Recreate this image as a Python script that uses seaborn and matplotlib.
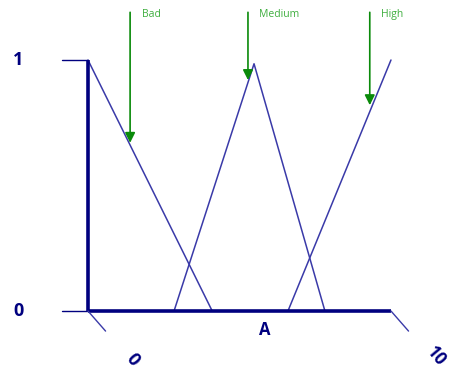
import matplotlib
matplotlib.use("Agg")
import matplotlib.pyplot as plt
import seaborn as sns
import pandas as pd

sns.set_theme(style="white")
plt.rcParams["font.family"] = ["Open Sans", "DejaVu Sans"]

# Membership functions of variable A (universe 0..10)
bad_x = [0.0, 4.1]
bad_y = [1.0, 0.0]
medium_x = [2.84, 5.48, 7.82]
medium_y = [0.0, 0.985, 0.0]
high_x = [6.6, 10.0]
high_y = [0.0, 1.0]

# Labelled arrows pointing at each fuzzy set
set_names = ["Bad", "Medium", "High"]
arrow_x = [1.39, 5.28, 9.3]
arrow_tip = [0.67, 0.92, 0.82]

x_ticks = [0, 10]
y_ticks = [0, 1]
axis_name = "A"

navy = "#00007f"
line_col = "#3a3aa8"
green = "#0a8a0a"
label_green = "#3fae3f"

frames = []
for name, xs, ys in [("Bad", bad_x, bad_y), ("Medium", medium_x, medium_y), ("High", high_x, high_y)]:
    frames.append(pd.DataFrame({"x": xs, "y": ys, "set": name}))
df = pd.concat(frames, ignore_index=True)

fig = plt.figure(figsize=(4.54, 3.72), dpi=100)
ax = fig.add_axes([0, 0, 1, 1])
ax.set_xlim(-2.904, 12.08)
ax.set_ylim(-0.243, 1.239)
ax.axis("off")

sns.lineplot(data=df, x="x", y="y", units="set", estimator=None, sort=False,
             color=line_col, lw=1.1, ax=ax, legend=False)

# Axes drawn as thick lines
ax.plot([0, 0], [0, 1], color=navy, lw=2.6, solid_capstyle="butt")
ax.plot([0, 10], [0, 0], color=navy, lw=2.6, solid_capstyle="butt")

# Tick marks
for yv in y_ticks:
    ax.plot([-0.86, 0], [yv, yv], color=navy, lw=1.0)
for xv in x_ticks:
    ax.plot([xv, xv + 0.58], [0, -0.08], color=line_col, lw=1.0)

# Tick labels
ax.text(-2.3, 1.0, str(y_ticks[1]), color=navy, fontsize=13, fontweight="bold",
        ha="center", va="center")
ax.text(-2.3, 0.0, str(y_ticks[0]), color=navy, fontsize=13, fontweight="bold",
        ha="center", va="center")
ax.text(1.48, -0.195, str(x_ticks[0]), color=navy, fontsize=13, fontweight="bold",
        ha="center", va="center", rotation=-50)
ax.text(11.5, -0.18, str(x_ticks[1]), color=navy, fontsize=12.5, fontweight="bold",
        ha="center", va="center", rotation=-50)
ax.text(5.84, -0.075, axis_name, color=navy, fontsize=12, fontweight="bold",
        ha="center", va="center")

# Arrows with set names
for name, xa, tip in zip(set_names, arrow_x, arrow_tip):
    ax.annotate("", xy=(xa, tip), xytext=(xa, 1.19),
                arrowprops=dict(arrowstyle="-|>", color=green, lw=1.2,
                                mutation_scale=15, shrinkA=0, shrinkB=0))
    ax.text(xa + 0.38, 1.18, name, color=label_green, fontsize=7.5,
            ha="left", va="center")

fig.savefig("out.png", dpi=100)
